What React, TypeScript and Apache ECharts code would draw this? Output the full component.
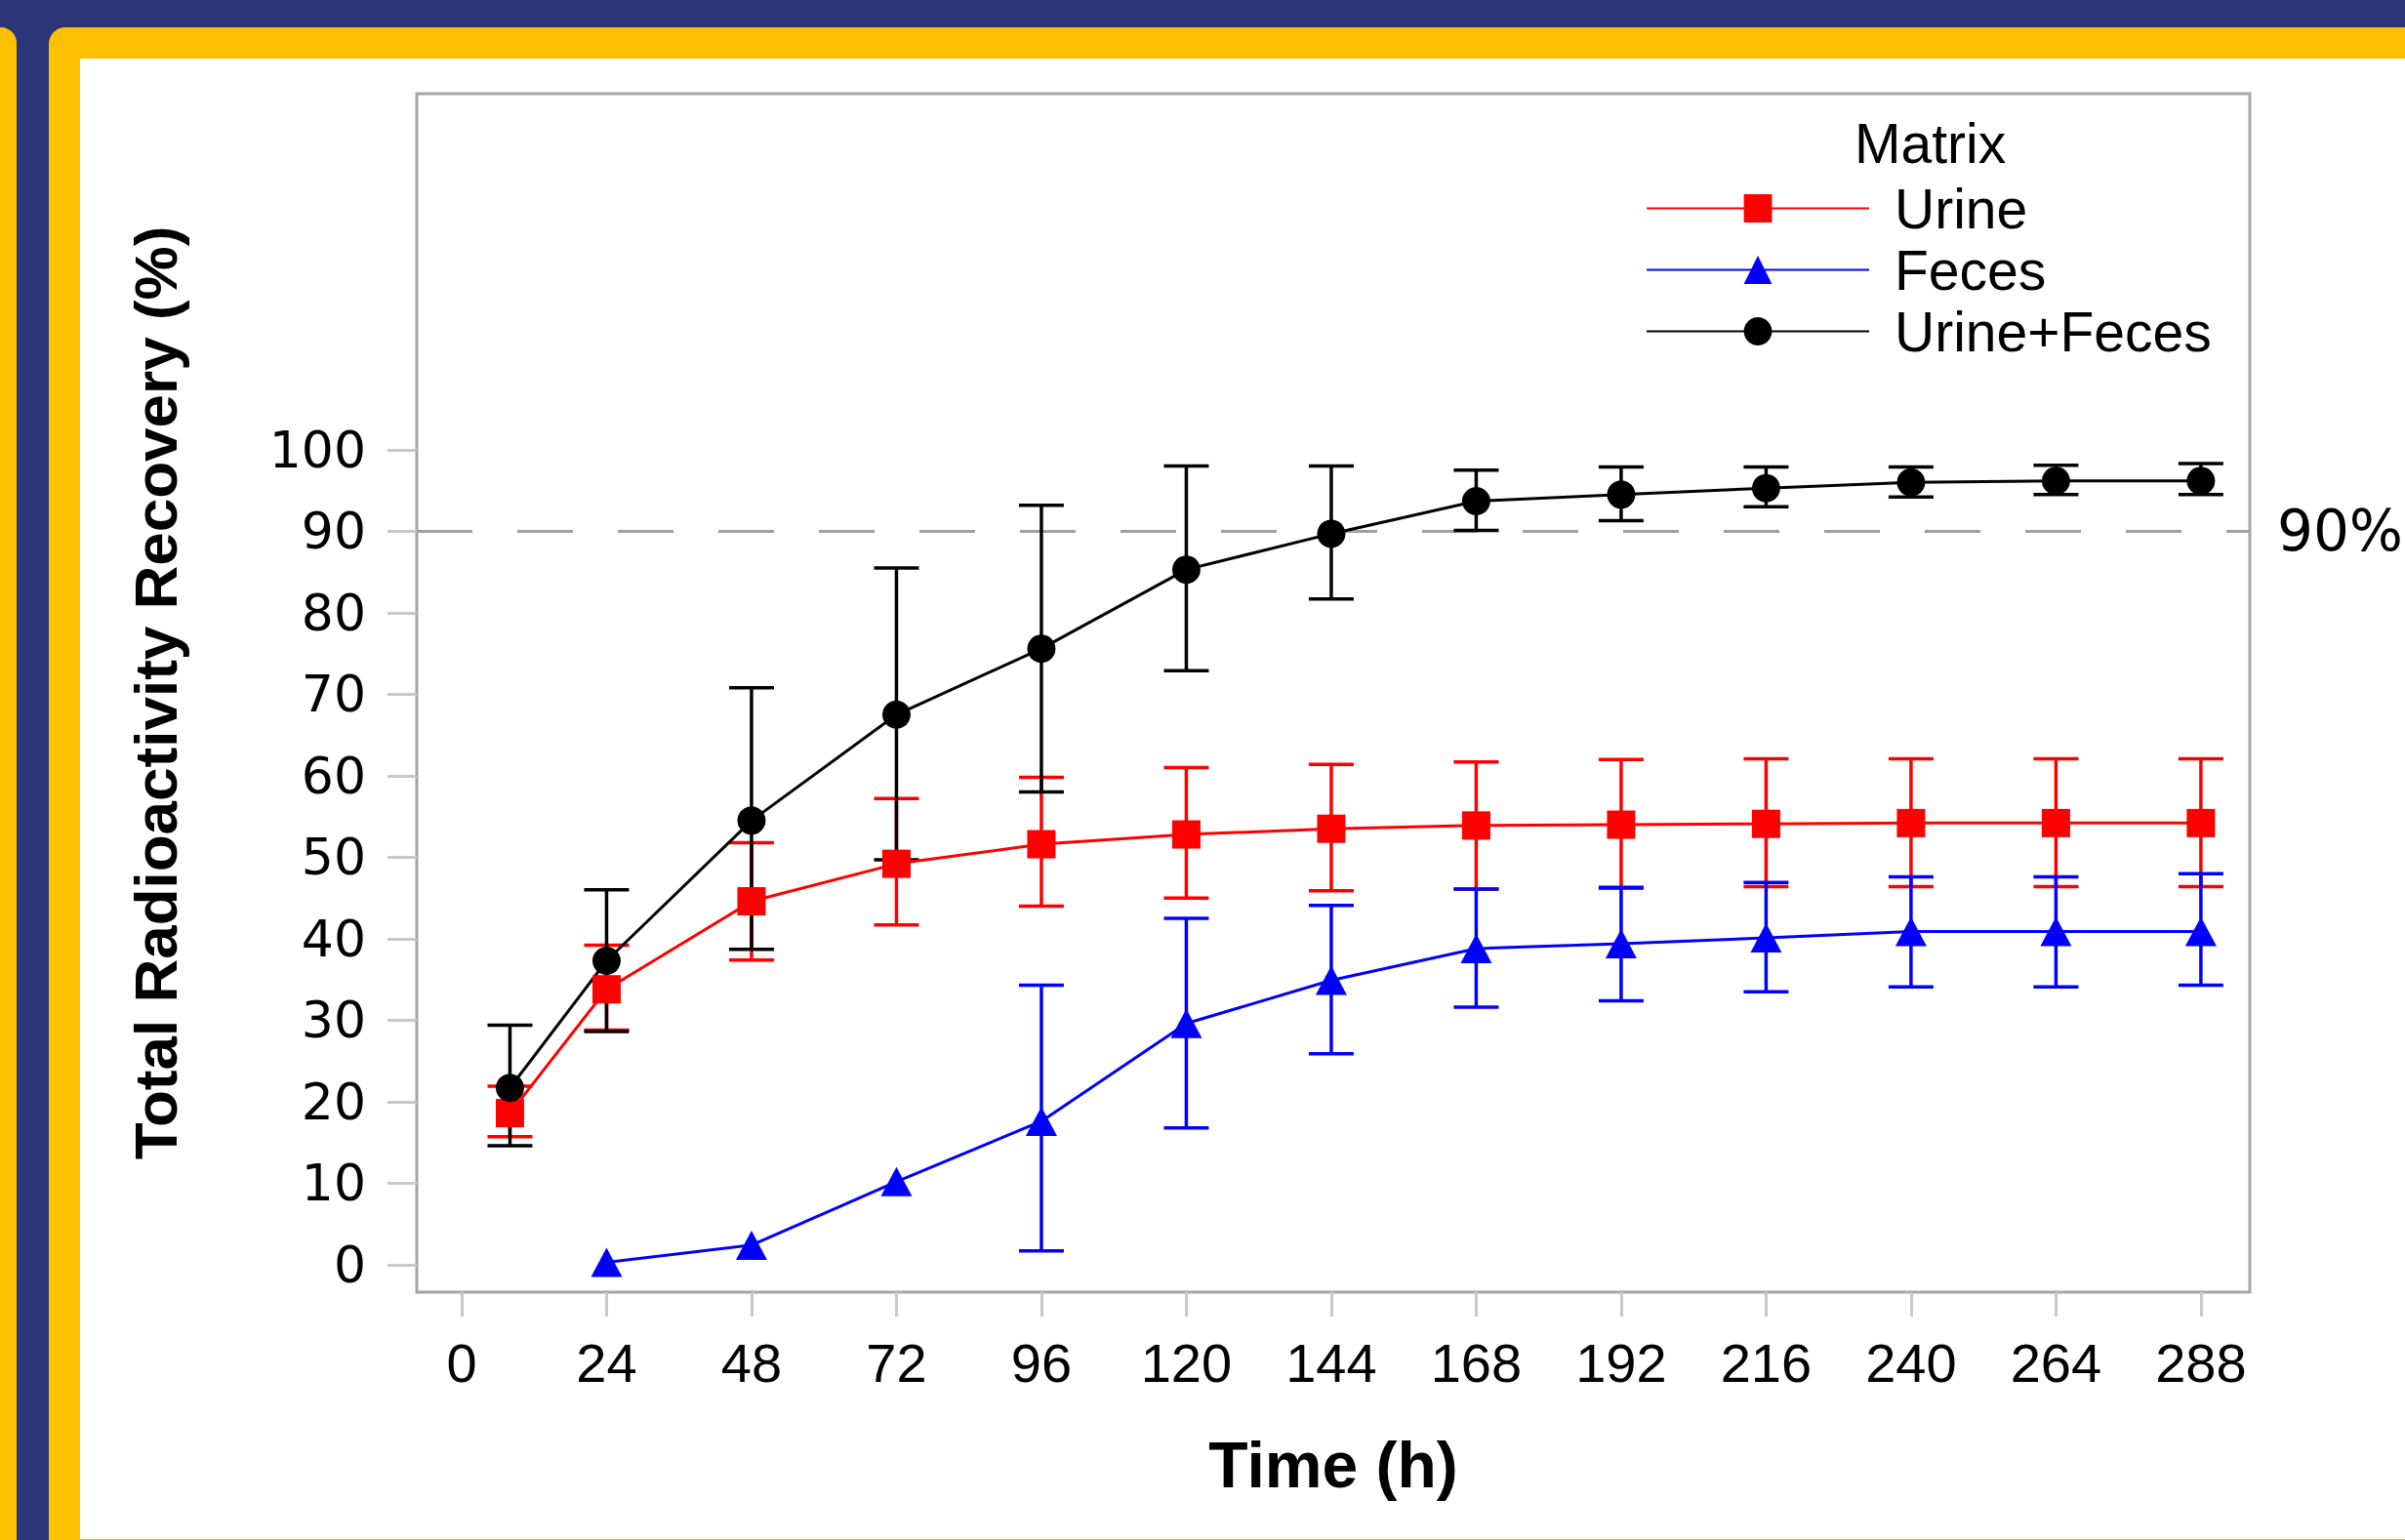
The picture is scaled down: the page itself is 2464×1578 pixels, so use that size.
import React, { useEffect, useRef } from "react";
import * as echarts from "echarts";

// ---- data ----
const times = [8, 24, 48, 72, 96, 120, 144, 168, 192, 216, 240, 264, 288];
const xTicks = [0, 24, 48, 72, 96, 120, 144, 168, 192, 216, 240, 264, 288];
const yTicks = [0, 10, 20, 30, 40, 50, 60, 70, 80, 90, 100];

const urine = [18.6, 33.8, 44.6, 49.2, 51.6, 52.8, 53.5, 53.9, 54.0, 54.1, 54.2, 54.2, 54.2];
const urineHigh = [21.9, 39.2, 51.8, 57.2, 59.8, 61.0, 61.4, 61.7, 62.0, 62.1, 62.1, 62.1, 62.1];
const urineLow = [15.7, 28.8, 37.4, 41.7, 44.0, 45.0, 45.9, 46.1, 46.2, 46.4, 46.4, 46.4, 46.4];

const fecesTimes = [24, 48, 72, 96, 120, 144, 168, 192, 216, 240, 264, 288];
const feces = [0.3, 2.4, 10.2, 17.6, 29.6, 34.9, 38.8, 39.4, 40.1, 40.9, 40.9, 40.9];
const fecesErrTimes = [96, 120, 144, 168, 192, 216, 240, 264, 288];
const fecesHigh = [34.3, 42.5, 44.1, 46.1, 46.3, 46.9, 47.6, 47.6, 48.0];
const fecesLow = [1.7, 16.8, 25.9, 31.6, 32.4, 33.5, 34.1, 34.1, 34.3];

const total = [21.7, 37.3, 54.5, 67.5, 75.6, 85.3, 89.7, 93.7, 94.5, 95.3, 96.0, 96.2, 96.2];
const totalHigh = [29.4, 46.0, 70.8, 85.5, 93.2, 98.0, 98.0, 97.5, 97.9, 97.9, 97.9, 98.1, 98.3];
const totalLow = [14.6, 28.6, 38.7, 49.7, 58.0, 72.9, 81.7, 90.1, 91.3, 93.0, 94.2, 94.5, 94.5];

const threshold = 90;

const RED = "#FF0000";
const BLUE = "#0000FF";
const BLACK = "#000000";

function errSeries(name: string, color: string, xs: number[], lo: number[], hi: number[]) {
  return {
    type: "custom",
    name,
    silent: true,
    z: 3,
    data: xs.map((t, i) => [t, lo[i], hi[i]]),
    encode: { x: 0, y: [1, 2] },
    renderItem: (_params: any, api: any) => {
      const x = api.value(0);
      const pLo = api.coord([x, api.value(1)]);
      const pHi = api.coord([x, api.value(2)]);
      const hw = 23;
      const style = { stroke: color, lineWidth: 3.5 };
      return {
        type: "group",
        children: [
          { type: "line", shape: { x1: pLo[0], y1: pLo[1], x2: pHi[0], y2: pHi[1] }, style },
          { type: "line", shape: { x1: pLo[0] - hw, y1: pLo[1], x2: pLo[0] + hw, y2: pLo[1] }, style },
          { type: "line", shape: { x1: pHi[0] - hw, y1: pHi[1], x2: pHi[0] + hw, y2: pHi[1] }, style },
        ],
      };
    },
  };
}

export default function App() {
  const ref = useRef<HTMLDivElement>(null);

  useEffect(() => {
    document.body.style.margin = "0";
    const chart = echarts.init(ref.current!, undefined, { renderer: "svg", width: 2464, height: 1578 });

    const option: any = {
      animation: false,
      backgroundColor: "#2C3577",
      graphic: [
        { type: "rect", z: -10, shape: { x: 0, y: 28, width: 17, height: 1560, r: [0, 16, 0, 0] }, style: { fill: "#FFC000" } },
        { type: "rect", z: -10, shape: { x: 50, y: 28, width: 2420, height: 1560, r: [17, 0, 0, 0] }, style: { fill: "#FFC000" } },
        { type: "rect", z: -9, shape: { x: 82, y: 60, width: 2390, height: 1517 }, style: { fill: "#FFFFFF" } },
      ],
      title: {
        text: "Matrix",
        left: 1900,
        top: 118,
        padding: 0,
        textStyle: { fontFamily: "Liberation Sans", fontSize: 57, fontWeight: "normal", color: BLACK },
      },
      legend: {
        data: ["Urine", "Feces", "Urine+Feces"],
        orient: "vertical",
        left: 1686,
        top: 185,
        padding: 0,
        itemWidth: 228,
        itemHeight: 36,
        itemGap: 6,
        selectedMode: false,
        textStyle: { fontFamily: "Liberation Sans", fontSize: 57, color: BLACK, lineHeight: 57, padding: [0, 0, 0, 21] },
      },
      grid: {
        show: true,
        left: 427,
        right: 159,
        top: 96,
        bottom: 254,
        borderColor: "#A6A6A6",
        borderWidth: 3,
        backgroundColor: "transparent",
      },
      xAxis: {
        type: "value",
        min: -7.43,
        max: 296.1,
        name: "Time (h)",
        nameLocation: "middle",
        nameGap: 144,
        nameTextStyle: { fontFamily: "Liberation Sans", fontSize: 66, fontWeight: "bold", color: BLACK },
        axisLine: { show: false, onZero: false },
        splitLine: { show: false },
        axisTick: { show: true, length: 25, customValues: xTicks, lineStyle: { color: "#C8C8C8", width: 3 } },
        axisLabel: {
          customValues: xTicks,
          margin: 44,
          fontFamily: "Liberation Sans",
          fontSize: 56,
          color: BLACK,
        },
      },
      yAxis: {
        type: "value",
        min: -3.36,
        max: 143.7,
        name: "Total Radioactivity Recovery (%)",
        nameLocation: "middle",
        nameRotate: 90,
        nameGap: 237,
        nameTextStyle: { fontFamily: "Liberation Sans", fontSize: 62, fontWeight: "bold", color: BLACK },
        axisLine: { show: false, onZero: false },
        splitLine: { show: false },
        axisTick: { show: true, length: 30, customValues: yTicks, lineStyle: { color: "#C8C8C8", width: 3 } },
        axisLabel: {
          customValues: yTicks,
          margin: 52,
          fontFamily: "DejaVu Sans",
          fontSize: 52,
          color: BLACK,
        },
      },
      series: [
        errSeries("Urine SD", RED, times, urineLow, urineHigh),
        {
          type: "line",
          name: "Urine",
          z: 4,
          data: times.map((t, i) => [t, urine[i]]),
          symbol: "rect",
          symbolSize: 29,
          lineStyle: { color: RED, width: 3 },
          itemStyle: { color: RED },
          markLine: {
            silent: true,
            symbol: "none",
            z: 1,
            lineStyle: { color: "#A0A0A0", width: 3, type: [57, 46] },
            label: {
              show: true,
              position: "end",
              distance: 28,
              formatter: "90%",
              fontFamily: "DejaVu Sans",
              fontSize: 58,
              color: BLACK,
            },
            data: [{ yAxis: threshold }],
          },
        },
        errSeries("Feces SD", BLUE, fecesErrTimes, fecesLow, fecesHigh),
        {
          type: "line",
          name: "Feces",
          z: 4,
          data: fecesTimes.map((t, i) => [t, feces[i]]),
          symbol: "triangle",
          symbolSize: [32, 30],
          lineStyle: { color: BLUE, width: 3 },
          itemStyle: { color: BLUE },
        },
        errSeries("Urine+Feces SD", BLACK, times, totalLow, totalHigh),
        {
          type: "line",
          name: "Urine+Feces",
          z: 4,
          data: times.map((t, i) => [t, total[i]]),
          symbol: "circle",
          symbolSize: 29,
          lineStyle: { color: BLACK, width: 3 },
          itemStyle: { color: BLACK },
        },
      ],
    };

    chart.setOption(option);
    return () => chart.dispose();
  }, []);

  return <div ref={ref} style={{ position: "absolute", left: 0, top: 0, width: 2464, height: 1578 }} />;
}
